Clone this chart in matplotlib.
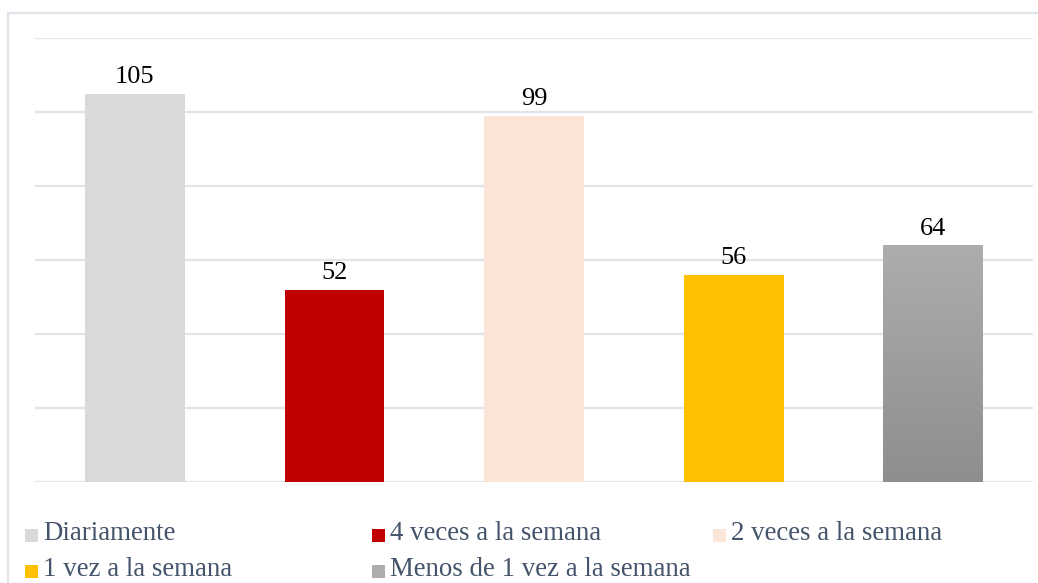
import matplotlib
matplotlib.use("Agg")
import matplotlib.pyplot as plt
import numpy as np
from matplotlib.patches import Rectangle
from matplotlib.colors import LinearSegmentedColormap

categories = ["Diariamente", "4 veces a la semana", "2 veces a la semana",
              "1 vez a la semana", "Menos de 1 vez a la semana"]
values = [105, 52, 99, 56, 64]
colors = ["#D9D9D9", "#C00000", "#FBE5D6", "#FFC000", "#A0A0A0"]
gradient_top, gradient_bottom = "#ADADAD", "#8E8E8E"
yticks = [0, 20, 40, 60, 80, 100, 120]

plt.rcParams['font.family'] = ['Liberation Serif', 'DejaVu Serif']

W, H = 1038, 583
fig = plt.figure(figsize=(W / 100, H / 100), dpi=100)
ax = fig.add_axes([35 / W, 1 - 482 / H, (1033 - 35) / W, (482 - 38) / H])

x = np.arange(len(categories))
bars = ax.bar(x, values, width=0.5, color=colors, zorder=3)

# gradient on last bar
last = bars[-1]
cmap = LinearSegmentedColormap.from_list("g", [gradient_bottom, gradient_top])
grad = np.linspace(0, 1, 256).reshape(-1, 1)
x0 = last.get_x()
x1 = x0 + last.get_width()
im = ax.imshow(grad, extent=(x0, x1, 0, last.get_height()), origin="lower",
               cmap=cmap, aspect="auto", zorder=4)
im.set_clip_path(last)

ax.bar_label(bars, labels=[str(v) for v in values], padding=4, fontsize=19,
             color="black", zorder=5)

ax.set_xlim(-0.5, len(categories) - 0.5)
ax.set_ylim(0, 120)
ax.set_yticks(yticks)
ax.set_xticks([])
ax.tick_params(left=False, labelleft=False)
ax.yaxis.grid(True, color="#DFE3EA", linewidth=1.6, zorder=0)
ax.set_axisbelow(True)
for s in ax.spines.values():
    s.set_visible(False)

# outer chart border
fig.add_artist(Rectangle((8 / W, -0.1), 1.2, 1 - 13 / H + 0.1,
                         transform=fig.transFigure, fill=False,
                         edgecolor="#DFE3EA", linewidth=1.6))

# legend (manual layout to match)
legend_pos = [(25, 534), (372, 534), (713, 534), (25, 570), (372, 570)]
legend_colors = colors[:4] + [gradient_top]
for (lx, ly), lab, col in zip(legend_pos, categories, legend_colors):
    fig.add_artist(Rectangle((lx / W, 1 - (ly + 8) / H), 13 / W, 13 / H,
                             transform=fig.transFigure, facecolor=col,
                             edgecolor="none"))
    fig.text((lx + 18) / W, 1 - ly / H, lab, fontsize=19.4, color="#44546A",
             va="center", ha="left")

fig.savefig("out.png", dpi=100)
